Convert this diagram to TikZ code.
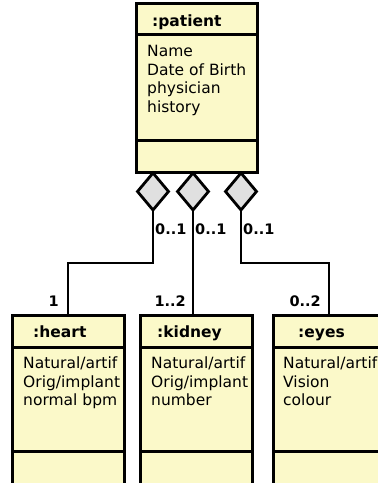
\documentclass[tikz,border=0pt]{standalone}
\usepackage{fontspec}
\setmainfont{DejaVu Sans}
\usetikzlibrary{shapes.geometric}
\definecolor{umlfill}{RGB}{251,249,201}
\definecolor{diafill}{RGB}{224,224,224}
\begin{document}
\begin{tikzpicture}[x=1pt,y=-1pt,
  classbox/.style={draw, line width=3pt, fill=umlfill, anchor=north west, inner sep=0, outer sep=0, minimum width=#1},
  sep/.style={line width=3pt},
  agg/.style={diamond, draw, line width=2.8pt, fill=diafill, minimum width=31pt, minimum height=37pt, inner sep=0, outer sep=0},
  conn/.style={line width=2.8pt},
  txt/.style={anchor=base west, inner sep=0, font=\fontsize{15.5}{18}\selectfont},
  hdr/.style={anchor=base west, inner sep=0, font=\fontsize{15.5}{18}\selectfont\bfseries},
  mult/.style={inner sep=0, font=\fontsize{14.5}{16}\selectfont\bfseries}]
\useasboundingbox (0,0) rectangle (378,483);
\clip (0,0) rectangle (378,483);

% patient
\node[classbox=121pt, minimum height=169pt] (patient) at (136,3) {};
\draw[sep] (136,34) -- (257,34);
\draw[sep] (136,140) -- (257,140);
\node[hdr] (ph) at (152,26) {:patient};
\node[txt] (pa1) at (147,56) {Name};
\node[txt] (pa2) at (147,75) {Date of Birth};
\node[txt] (pa3) at (147,93) {physician};
\node[txt] (pa4) at (147,112) {history};

% heart
\node[classbox=112pt, minimum height=200pt] (heart) at (12,315) {};
\draw[sep] (12,347) -- (124,347);
\draw[sep] (12,451) -- (124,451);
\node[hdr] (hh) at (33,337) {:heart};
\begin{scope}
\clip (13.5,348) rectangle (122.5,450);
\node[txt] (ha1) at (23,368) {Natural/artif};
\node[txt] (ha2) at (23,387) {Orig/implant};
\node[txt] (ha3) at (23,405) {normal bpm};
\end{scope}

% kidney
\node[classbox=112pt, minimum height=200pt] (kidney) at (140,315) {};
\draw[sep] (140,347) -- (252,347);
\draw[sep] (140,451) -- (252,451);
\node[hdr] (kh) at (157,337) {:kidney};
\begin{scope}
\clip (141.5,348) rectangle (250.5,450);
\node[txt] (ka1) at (151,368) {Natural/artif};
\node[txt] (ka2) at (151,387) {Orig/implant};
\node[txt] (ka3) at (151,405) {number};
\end{scope}

% eyes
\node[classbox=112pt, minimum height=200pt] (eyes) at (273,315) {};
\draw[sep] (273,347) -- (385,347);
\draw[sep] (273,451) -- (385,451);
\node[hdr] (eh) at (298,337) {:eyes};
\begin{scope}
\clip (274.5,348) rectangle (383.5,450);
\node[txt] (ea1) at (283,368) {Natural/artif};
\node[txt] (ea2) at (283,387) {Vision};
\node[txt] (ea3) at (283,405) {colour};
\end{scope}

% aggregation diamonds
\node[agg] (d1) at (153,191.5) {};
\node[agg] (d2) at (193,191.5) {};
\node[agg] (d3) at (241,191.5) {};

% connectors
\coordinate (j1) at (0,263);
\draw[conn] (d1.south) |- (j1 -| heart.north) -- (heart.north);
\draw[conn] (d2.south) -- (d2.south |- kidney.north);
\draw[conn] (d3.south) |- (j1 -| eyes.north) -- (eyes.north);

% multiplicities
\node[mult, anchor=base west] (m1) at (155,234) {0..1};
\node[mult, anchor=base west] (m2) at (195,234) {0..1};
\node[mult, anchor=base west] (m3) at (243,234) {0..1};
\node[mult, anchor=base east] (n1) at (59,306) {1};
\node[mult, anchor=base east] (n2) at (186,306) {1..2};
\node[mult, anchor=base east] (n3) at (321,306) {0..2};
\end{tikzpicture}
\end{document}
